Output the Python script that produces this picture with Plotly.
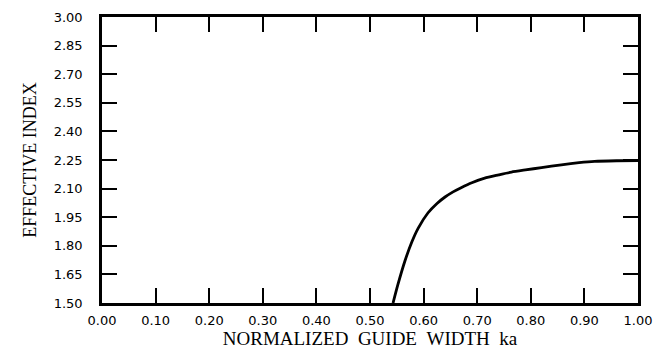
import plotly.graph_objects as go

# Data
ka = [0.543, 0.552, 0.565, 0.578, 0.590, 0.608, 0.625, 0.640, 0.655, 0.670, 0.690, 0.714, 0.740, 0.764, 0.790, 0.820, 0.857, 0.890, 0.919, 0.960, 1.0]
neff = [1.50, 1.596, 1.719, 1.820, 1.893, 1.972, 2.022, 2.056, 2.083, 2.105, 2.131, 2.155, 2.172, 2.187, 2.198, 2.210, 2.225, 2.236, 2.243, 2.246, 2.247]

x_ticks = [0.0, 0.1, 0.2, 0.3, 0.4, 0.5, 0.6, 0.7, 0.8, 0.9, 1.0]
y_ticks = [1.50, 1.65, 1.80, 1.95, 2.10, 2.25, 2.40, 2.55, 2.70, 2.85, 3.00]

fig = go.Figure()
fig.add_trace(go.Scatter(x=ka, y=neff, mode="lines", line=dict(color="black", width=2.8, shape="spline", smoothing=0.6),
                         showlegend=False, hoverinfo="skip"))

axis_common = dict(
    showgrid=False, zeroline=False, showline=True, linecolor="black", linewidth=2.5,
    mirror="ticks", ticks="inside", ticklen=15, tickwidth=1.5, tickcolor="black",
    tickfont=dict(family="DejaVu Sans", size=13, color="black"), automargin=False,
)

fig.update_layout(
    width=662, height=348,
    margin=dict(l=94, r=32, t=9, b=53),
    paper_bgcolor="white", plot_bgcolor="white",
    xaxis=dict(range=[0, 1], tickvals=x_ticks, ticktext=[f"{v:.2f}" for v in x_ticks],
               title=dict(text="NORMALIZED&nbsp;&nbsp;GUIDE&nbsp;&nbsp;WIDTH&nbsp;&nbsp;ka",
                          font=dict(family="Liberation Serif", size=19, color="black"), standoff=2),
               ticklabelstandoff=4, **axis_common),
    yaxis=dict(range=[1.5, 3.0], tickvals=y_ticks, ticktext=[f"{v:.2f}" for v in y_ticks],
               title=dict(text="EFFECTIVE INDEX",
                          font=dict(family="Liberation Serif", size=18, color="black"), standoff=13),
               ticklabelstandoff=14, **axis_common),
)

fig.write_html("out.html")
